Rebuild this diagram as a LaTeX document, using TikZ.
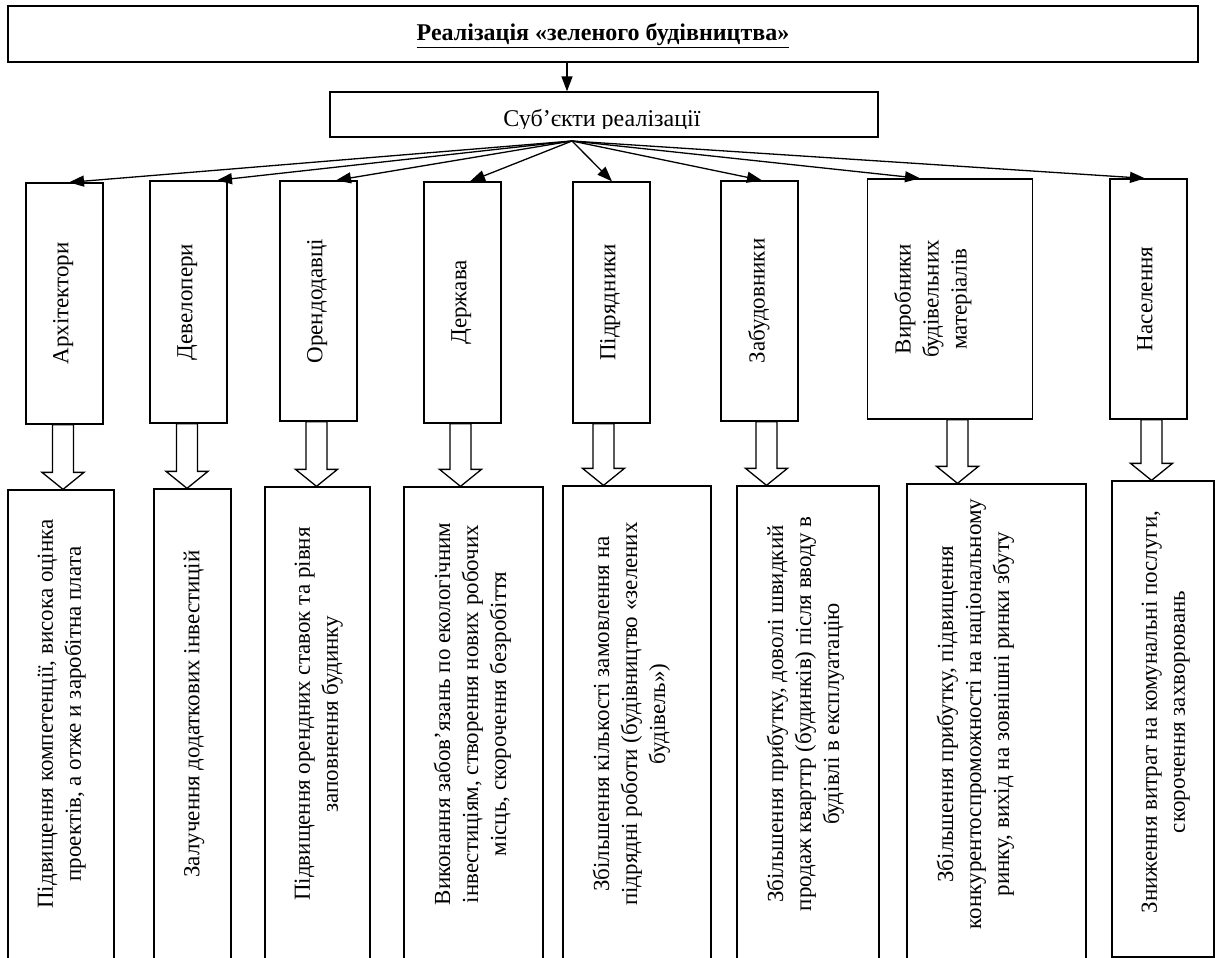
\documentclass[tikz,border=0pt]{standalone}
\usepackage{fontspec}
\setmainfont{Liberation Serif}
\usetikzlibrary{arrows.meta}
\begin{document}
\begin{tikzpicture}[x=1pt,y=-1pt,
  box/.style={draw, line width=1.3pt, inner sep=0pt},
  txt/.style={font=\fontsize{23}{28}\selectfont, align=center, inner sep=0pt, rotate=90, anchor=north},
  fan/.style={line width=1.3pt, -{Triangle[length=15pt,width=11pt]}},
  hollow/.style={line width=1.3pt, fill=white, line join=miter}
]
\useasboundingbox (0,0) rectangle (1215,958);
\clip (0,0) rectangle (1215,958);

% top box
\node[box, minimum width=1190pt, minimum height=56pt] (top) at (603,34) {};
\node[anchor=base, inner sep=0pt, font=\fontsize{24}{28}\selectfont\bfseries] (title) at (603,41) {\underline{Реалізація «зеленого будівництва»}};
% subjects box
\node[box, minimum width=548pt, minimum height=45pt] (subj) at (604,114.5) {};
\begin{scope}
\clip (330,92) rectangle (878,128.5);
\node[anchor=base, inner sep=0pt, font=\fontsize{24}{28}\selectfont] (subjt) at (602,126.5) {Суб’єкти реалізації};
\end{scope}
\draw[fan] (567,0 |- top.south) -- (567,0 |- subj.north);

% subject boxes
\node[box, minimum width=77pt, minimum height=241pt] (s1) at (64.5,303.5) {};
\node[box, minimum width=77pt, minimum height=242pt] (s2) at (188.5,302) {};
\node[box, minimum width=77pt, minimum height=240pt] (s3) at (318.5,301) {};
\node[box, minimum width=77pt, minimum height=241pt] (s4) at (462.5,302.5) {};
\node[box, minimum width=77pt, minimum height=241pt] (s5) at (611.5,302.5) {};
\node[box, minimum width=77pt, minimum height=240pt] (s6) at (759.5,301) {};
\node[box, minimum width=165pt, minimum height=240pt] (s7) at (950,299) {};
\node[box, minimum width=77pt, minimum height=240pt] (s8) at (1148.5,299) {};

\node[txt] (t1) at (26+27,303.5) {Архітектори};
\node[txt] (t2) at (150+27,302) {Девелопери};
\node[txt] (t3) at (280+27,301) {Орендодавці};
\node[txt] (t4) at (424+27,302.5) {Держава};
\node[txt] (t5) at (573+27,302.5) {Підрядники};
\node[txt] (t6) at (721+27,301) {Забудовники};
\node[txt] (t7) at (867+27,299) {Виробники\\будівельних\\матеріалів};
\node[txt] (t8) at (1110+27,299) {Населення};

% fan arrows
\coordinate (o) at (572,141);
\draw[fan] (o) -- (69,0 |- s1.north);
\draw[fan] (o) -- (217,0 |- s2.north);
\draw[fan] (o) -- (336,0 |- s3.north);
\draw[fan] (o) -- (470,0 |- s4.north);
\draw[fan] (o) -- (612,0 |- s5.north);
\draw[fan] (o) -- (762,0 |- s6.north);
\draw[fan] (o) -- (920,0 |- s7.north);
\draw[fan] (o) -- (1145,0 |- s8.north);

% result boxes
\node[box, minimum width=106pt, minimum height=500pt] (r1) at (61,740) {};
\node[box, minimum width=77pt, minimum height=500pt] (r2) at (192.5,739) {};
\node[box, minimum width=105pt, minimum height=500pt] (r3) at (317.5,737) {};
\node[box, minimum width=139pt, minimum height=500pt] (r4) at (473.5,737) {};
\node[box, minimum width=148pt, minimum height=500pt] (r5) at (637,736) {};
\node[box, minimum width=142pt, minimum height=500pt] (r6) at (808,736) {};
\node[box, minimum width=179pt, minimum height=500pt] (r7) at (996.5,734) {};
\node[box, minimum width=102pt, minimum height=476pt] (r8) at (1163,719) {};

\node[txt] (u1) at (8+29.5,714) {Підвищення компетенції, висока оцінка\\проектів, а отже и заробітна плата};
\node[txt] (u2) at (154+29.5,714) {Залучення додаткових інвестицій};
\node[txt] (u3) at (265+29.5,714) {Підвищення орендних ставок та рівня\\заповнення будинку};
\node[txt] (u4) at (404+29.5,714) {Виконання забов’язань по екологічним\\інвестиціям, створення нових робочих\\місць, скорочення безробіття};
\node[txt] (u5) at (563+29.5,714) {Збільшення кількості замовлення на\\підрядні роботи (будівництво «зелених\\будівель»)};
\node[txt] (u6) at (737+29.5,714) {Збільшення прибутку, доволі швидкий\\продаж кварттр (будинків) після вводу в\\будівлі в експлуатацію};
\node[txt] (u7) at (907+29.5,714) {Збільшення прибутку, підвищення\\конкурентоспроможності на національному\\ринку, вихід на зовнішні ринки збуту};
\node[txt] (u8) at (1112+29.5,712) {Зниження витрат на комунальні послуги,\\скорочення захворювань};

% hollow block arrows
\newcommand\blockarr[3]{%
  \draw[hollow] (#1-10.5,0 |- #2.south) -- ([yshift=17pt]#1-10.5,0 |- #3.north)
    -- ([yshift=17pt]#1-21,0 |- #3.north) -- (#1,0 |- #3.north)
    -- ([yshift=17pt]#1+21,0 |- #3.north) -- ([yshift=17pt]#1+10.5,0 |- #3.north)
    -- (#1+10.5,0 |- #2.south) -- cycle;}
\blockarr{63}{s1}{r1}
\blockarr{187}{s2}{r2}
\blockarr{316.5}{s3}{r3}
\blockarr{460.5}{s4}{r4}
\blockarr{603.5}{s5}{r5}
\blockarr{766.5}{s6}{r6}
\blockarr{957.5}{s7}{r7}
\blockarr{1151.5}{s8}{r8}
\end{tikzpicture}
\end{document}
